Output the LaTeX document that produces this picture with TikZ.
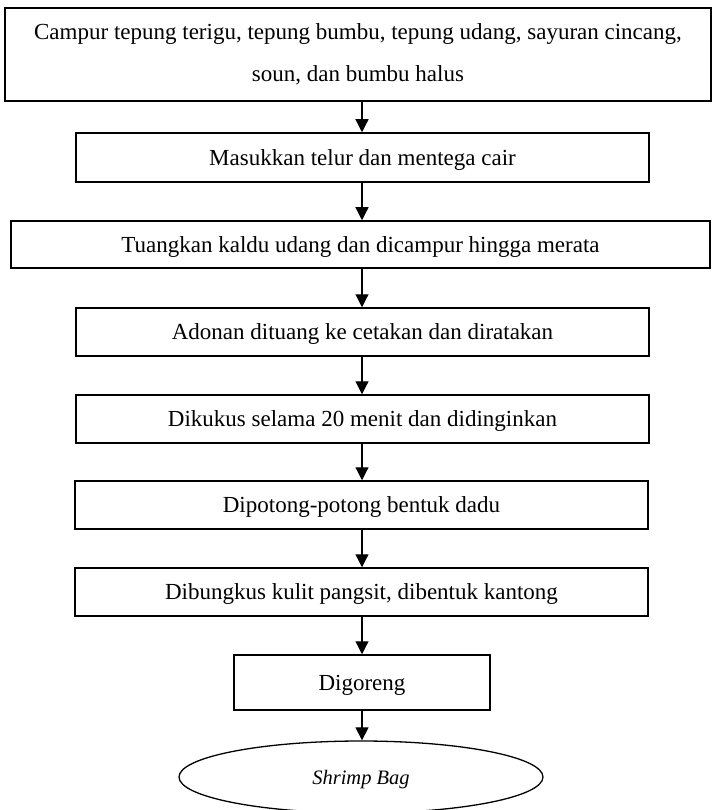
\documentclass[tikz,border=0pt]{standalone}
\usepackage{fontspec}
\setmainfont{Liberation Serif}
\usetikzlibrary{shapes.geometric,arrows.meta}
\begin{document}
\begin{tikzpicture}[x=1pt,y=-1pt,
  stepbox/.style={draw,line width=1.5pt,rectangle,inner sep=0pt,align=center,
    font=\fontsize{23}{42}\selectfont},
  onebox/.style={stepbox,text depth=0pt},
  endshape/.style={draw,line width=1.3pt,ellipse,inner sep=0pt,text depth=0pt,
    font=\fontsize{20.5}{24}\selectfont\itshape},
  arr/.style={line width=1.2pt,-{Triangle[length=13pt,width=13pt]}}]
\useasboundingbox (0,0) rectangle (712,810);
\coordinate (ax) at (362,0);
\node[stepbox,minimum width=706pt,minimum height=93pt] (b1) at (358,54.5)
  {Campur tepung terigu, tepung bumbu, tepung udang, sayuran cincang,\\soun, dan bumbu halus};
\node[onebox,minimum width=573pt,minimum height=49pt] (b2) at (362.5,157.5)
  {Masukkan telur dan mentega cair};
\node[onebox,minimum width=699pt,minimum height=47pt] (b3) at (360.5,244.5)
  {Tuangkan kaldu udang dan dicampur hingga merata};
\node[onebox,minimum width=573pt,minimum height=48pt] (b4) at (362.5,332)
  {Adonan dituang ke cetakan dan diratakan};
\node[onebox,minimum width=573pt,minimum height=48pt] (b5) at (362.5,419)
  {Dikukus selama 20 menit dan didinginkan};
\node[onebox,minimum width=573pt,minimum height=48pt] (b6) at (361.5,505)
  {Dipotong-potong bentuk dadu};
\node[onebox,minimum width=573pt,minimum height=48pt] (b7) at (361.5,592)
  {Dibungkus kulit pangsit, dibentuk kantong};
\node[onebox,minimum width=256pt,minimum height=55pt] (b8) at (362,682.5)
  {Digoreng};
\node[endshape,minimum width=364pt,minimum height=72pt] (e) at (361,777)
  {Shrimp Bag};
\draw[arr] (b1.south -| ax) -- (b2.north -| ax);
\draw[arr] (b2.south -| ax) -- (b3.north -| ax);
\draw[arr] (b3.south -| ax) -- (b4.north -| ax);
\draw[arr] (b4.south -| ax) -- (b5.north -| ax);
\draw[arr] (b5.south -| ax) -- (b6.north -| ax);
\draw[arr] (b6.south -| ax) -- (b7.north -| ax);
\draw[arr] (b7.south -| ax) -- (b8.north -| ax);
\draw[arr] (b8.south -| ax) -- (e.north -| ax);
\end{tikzpicture}
\end{document}
